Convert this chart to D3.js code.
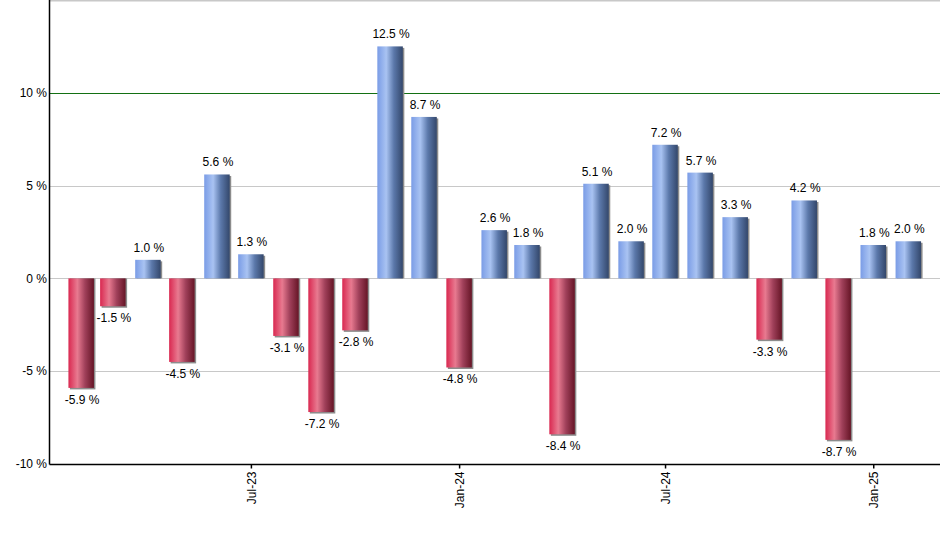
<!DOCTYPE html>
<html>
<head>
<meta charset="utf-8">
<script src="https://cdn.jsdelivr.net/npm/d3@7"></script>
<style>
  html, body { margin: 0; padding: 0; background: #fff; }
  svg { display: block; font-family: "Liberation Sans", Arial, sans-serif; }
</style>
</head>
<body>
<svg id="chart" width="940" height="550"></svg>
<script>
// ---- data ----
const months = ["2023-02","2023-03","2023-04","2023-05","2023-06","2023-07","2023-08","2023-09","2023-10","2023-11","2023-12",
  "2024-01","2024-02","2024-03","2024-04","2024-05","2024-06","2024-07","2024-08","2024-09","2024-10","2024-11","2024-12",
  "2025-01","2025-02"];
const returns = [-5.9, -1.5, 1.0, -4.5, 5.6, 1.3, -3.1, -7.2, -2.8, 12.5, 8.7,
  -4.8, 2.6, 1.8, -8.4, 5.1, 2.0, 7.2, 5.7, 3.3, -3.3, 4.2, -8.7,
  1.8, 2.0];
const yTicks = [-10, -5, 0, 5, 10];
const xTickMonths = ["2023-07","2024-01","2024-07","2025-01"];
const xTickLabels = ["Jul-23","Jan-24","Jul-24","Jan-25"];

// ---- layout ----
(function () {
const svg = d3.select("#chart");
const mLeft = 49.5, mRight = 940, mTop = 0, mBottom = 464;
const parse = d3.timeParse("%Y-%m");
const dates = months.map(parse);

const x = d3.scaleTime()
  .domain([new Date(2023, 0, 4), new Date(2025, 2, 1)])
  .range([mLeft, mRight]);
const y = d3.scaleLinear().domain([-10, 15]).range([mBottom, mTop]);
const barW = 25.5;

// gradients
const defs = svg.append("defs");
function grad(id, stops) {
  const g = defs.append("linearGradient").attr("id", id)
    .attr("x1", "0%").attr("x2", "100%").attr("y1", "0%").attr("y2", "0%");
  stops.forEach(s => g.append("stop").attr("offset", s[0]).attr("stop-color", s[1]));
}
grad("gBlue", [["0%", "#7a9ce6"], ["35%", "#a9c3f2"], ["65%", "#5b78aa"], ["100%", "#33476b"]]);
grad("gRed", [["0%", "#d92850"], ["35%", "#e87a90"], ["65%", "#a0405a"], ["100%", "#661526"]]);

// top border line
svg.append("line").attr("x1", mLeft).attr("x2", mRight).attr("y1", 0.5).attr("y2", 0.5)
  .attr("stroke", "#c8c8c8").attr("stroke-width", 2);

// grid
svg.append("g").selectAll("line").data(yTicks.filter(v => v !== -10)).join("line")
  .attr("x1", mLeft).attr("x2", mRight)
  .attr("y1", d => Math.round(y(d)) + 0.5).attr("y2", d => Math.round(y(d)) + 0.5)
  .attr("stroke", d => d === 10 ? "#137013" : "#c8c8c8")
  .attr("stroke-width", 1);

// y tick labels
svg.append("g").selectAll("text").data(yTicks).join("text")
  .attr("x", 47).attr("y", d => y(d))
  .attr("dy", "0.35em").attr("text-anchor", "end")
  .attr("font-size", 12).attr("fill", "#000")
  .text(d => d + " %");

// bars
const bars = svg.append("g");
const data = dates.map((d, i) => ({ d, v: returns[i] }));
// shadows
bars.selectAll("rect.sh").data(data).join("rect").attr("class", "sh")
  .attr("x", d => x(d.d) - barW / 2 + 1.5)
  .attr("y", d => d.v >= 0 ? y(d.v) + 1.5 : y(0))
  .attr("width", barW)
  .attr("height", d => d.v >= 0 ? Math.max(0, y(0) - y(d.v) - 1.5) : y(d.v) - y(0) + 1.5)
  .attr("fill", "#8c8c8c");
bars.selectAll("rect.bar").data(data).join("rect").attr("class", "bar")
  .attr("x", d => x(d.d) - barW / 2)
  .attr("y", d => Math.min(y(d.v), y(0)))
  .attr("width", barW)
  .attr("height", d => Math.abs(y(d.v) - y(0)))
  .attr("fill", d => d.v >= 0 ? "url(#gBlue)" : "url(#gRed)");

// value labels
bars.selectAll("text").data(data).join("text")
  .attr("x", d => x(d.d) + 1)
  .attr("y", d => d.v >= 0 ? y(d.v) - 8 : y(d.v) + 16)
  .attr("text-anchor", "middle").attr("font-size", 12).attr("fill", "#000")
  .text(d => d.v.toFixed(1) + " %");

// axes lines
svg.append("line").attr("x1", mLeft).attr("x2", mLeft).attr("y1", 0).attr("y2", mBottom + 0.5)
  .attr("stroke", "#000").attr("stroke-width", 1.5);
svg.append("line").attr("x1", mLeft).attr("x2", mRight).attr("y1", mBottom + 0.5).attr("y2", mBottom + 0.5)
  .attr("stroke", "#000").attr("stroke-width", 1.5);

// x axis ticks + labels
const xAxis = d3.axisBottom(x)
  .tickValues(xTickMonths.map(parse))
  .tickSize(4)
  .tickFormat((d, i) => xTickLabels[i]);
const gx = svg.append("g").attr("transform", `translate(0,${mBottom + 0.5})`).call(xAxis);
gx.select(".domain").remove();
gx.selectAll(".tick line").attr("stroke", "#000").attr("stroke-width", 1.5);
gx.selectAll(".tick text")
  .attr("font-family", "Liberation Sans, Arial, sans-serif")
  .attr("font-size", 12).attr("fill", "#000")
  .attr("transform", "rotate(-90)")
  .attr("text-anchor", "end")
  .attr("x", -7).attr("y", 0).attr("dy", "0.35em");
})();
</script>
</body>
</html>
